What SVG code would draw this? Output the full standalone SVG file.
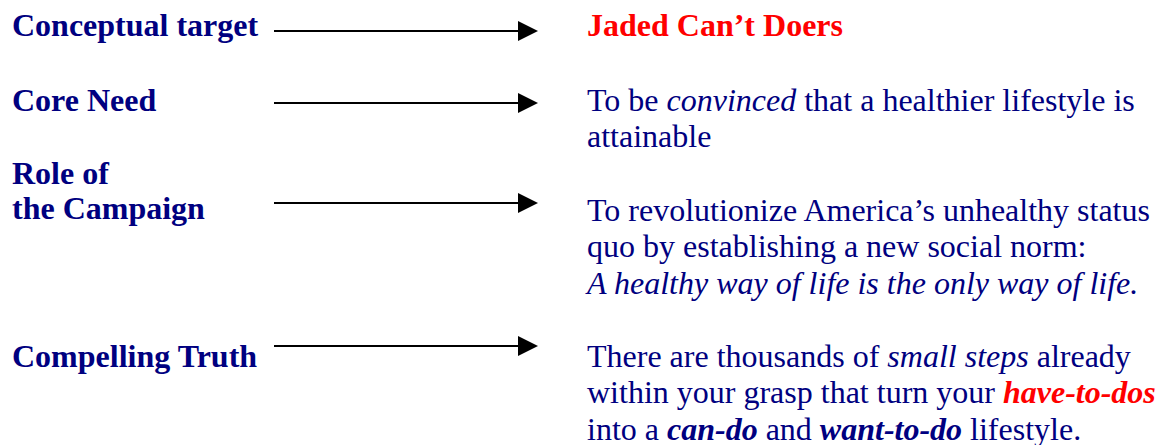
<svg xmlns="http://www.w3.org/2000/svg" width="1160" height="445" viewBox="0 0 1160 445">
  <style>
    text { font-family: "Liberation Serif", "Times New Roman", serif; font-size: 32px; fill: #000080; }
    .lbl { font-weight: bold; }
    .red { fill: #FF0000; }
    .it { font-style: italic; }
    .b { font-weight: bold; }
    .conn { stroke: #000000; stroke-width: 2; fill: none; }
  </style>
  <defs>
    <marker id="arrow" markerUnits="userSpaceOnUse" markerWidth="20" markerHeight="20" refX="0" refY="10" orient="auto">
      <path d="M0,0 L20,10 L0,20 Z" fill="#000000"/>
    </marker>
  </defs>
  <g id="connectors">
    <line class="conn" x1="274" y1="31" x2="518" y2="31" marker-end="url(#arrow)"/>
    <line class="conn" x1="274" y1="103" x2="518" y2="103" marker-end="url(#arrow)"/>
    <line class="conn" x1="274" y1="203" x2="518" y2="203" marker-end="url(#arrow)"/>
    <line class="conn" x1="274" y1="346" x2="518" y2="346" marker-end="url(#arrow)"/>
  </g>
  <g id="label-conceptual-target">
    <text class="lbl" x="12" y="36">Conceptual target</text>
  </g>
  <g id="label-core-need">
    <text class="lbl" x="12" y="111">Core Need</text>
  </g>
  <g id="label-role">
    <text class="lbl" x="12" y="184">Role of</text>
    <text class="lbl" x="12" y="219">the Campaign</text>
  </g>
  <g id="label-compelling-truth">
    <text class="lbl" x="12" y="367">Compelling Truth</text>
  </g>
  <g id="value-conceptual-target">
    <text class="b red" x="587" y="36">Jaded Can’t Doers</text>
  </g>
  <g id="value-core-need">
    <text x="587" y="111">To be <tspan class="it">convinced</tspan> that a healthier lifestyle is</text>
    <text x="587" y="147">attainable</text>
  </g>
  <g id="value-role">
    <text x="587" y="221">To revolutionize America’s unhealthy status</text>
    <text x="587" y="257">quo by establishing a new social norm:</text>
    <text class="it" x="587" y="294">A healthy way of life is the only way of life.</text>
  </g>
  <g id="value-compelling-truth">
    <text x="587" y="367">There are thousands of <tspan class="it">small steps</tspan> already</text>
    <text x="587" y="403">within your grasp that turn your <tspan class="it b red">have-to-dos</tspan></text>
    <text x="587" y="440">into a <tspan class="it b">can-do</tspan> and <tspan class="it b">want-to-do</tspan> lifestyle.</text>
  </g>
</svg>
